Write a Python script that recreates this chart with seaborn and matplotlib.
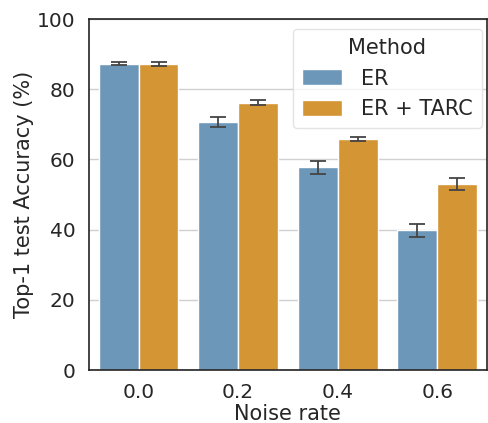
import pandas as pd
import matplotlib
matplotlib.use("Agg")
import matplotlib.pyplot as plt
import seaborn as sns

# values
noise_rates = ["0.0", "0.2", "0.4", "0.6"]
methods = ["ER", "ER + TARC"]
acc_er = [87.3, 70.7, 57.8, 39.8]
acc_tarc = [87.3, 76.2, 65.8, 53.0]
err_er = [0.5, 1.4, 1.9, 1.9]
err_tarc = [0.6, 0.7, 0.6, 1.6]

palette = {"ER": "#6d97b9", "ER + TARC": "#d49535"}

df = pd.DataFrame({
    "Noise rate": noise_rates * 2,
    "Method": [methods[0]] * 4 + [methods[1]] * 4,
    "acc": acc_er + acc_tarc,
    "err": err_er + err_tarc,
})

sns.set_style("white")
plt.rcParams["font.family"] = ["DejaVu Sans"]

fig = plt.figure(figsize=(4.88, 4.23), dpi=100)
ax = fig.add_axes([0.182, 0.125, 0.816, 0.83])

sns.barplot(data=df, x="Noise rate", y="acc", hue="Method", palette=palette,
            errorbar=None, saturation=1, edgecolor="white", linewidth=1, ax=ax)

# error bars on the centre of each bar
for i, m in enumerate(methods):
    cont = ax.containers[i]
    sub = df[df["Method"] == m]
    xs = [p.get_x() + p.get_width() / 2 for p in cont.patches]
    ax.errorbar(xs, sub["acc"].values, yerr=sub["err"].values, fmt="none",
                ecolor="#444444", elinewidth=1.3, capsize=6, capthick=1.3, zorder=5)

ax.set_xlim(-0.5, len(noise_rates) - 0.5)
ax.set_ylim(0, 100)
ax.set_yticks([0, 20, 40, 60, 80, 100])
ax.yaxis.grid(True, color="#d0d0d0", linewidth=1)
ax.set_axisbelow(True)
for s in ax.spines.values():
    s.set_color("#222222")
    s.set_linewidth(1.2)

ax.tick_params(labelsize=14.5, colors="#262626", pad=6)
ax.set_xlabel("Noise rate", fontsize=15, color="#262626", labelpad=1)
ax.set_ylabel("Top-1 test Accuracy (%)", fontsize=15, color="#262626", labelpad=2)

leg = ax.legend(title="Method", fontsize=15, title_fontsize=15, loc="upper right",
                bbox_to_anchor=(0.987, 0.972), borderaxespad=0,
                handlelength=1.9, handleheight=0.8, handletextpad=0.9,
                borderpad=0.45, labelspacing=0.5, frameon=True)
leg.get_frame().set_edgecolor("#dddddd")

fig.savefig("out.png", dpi=100)
